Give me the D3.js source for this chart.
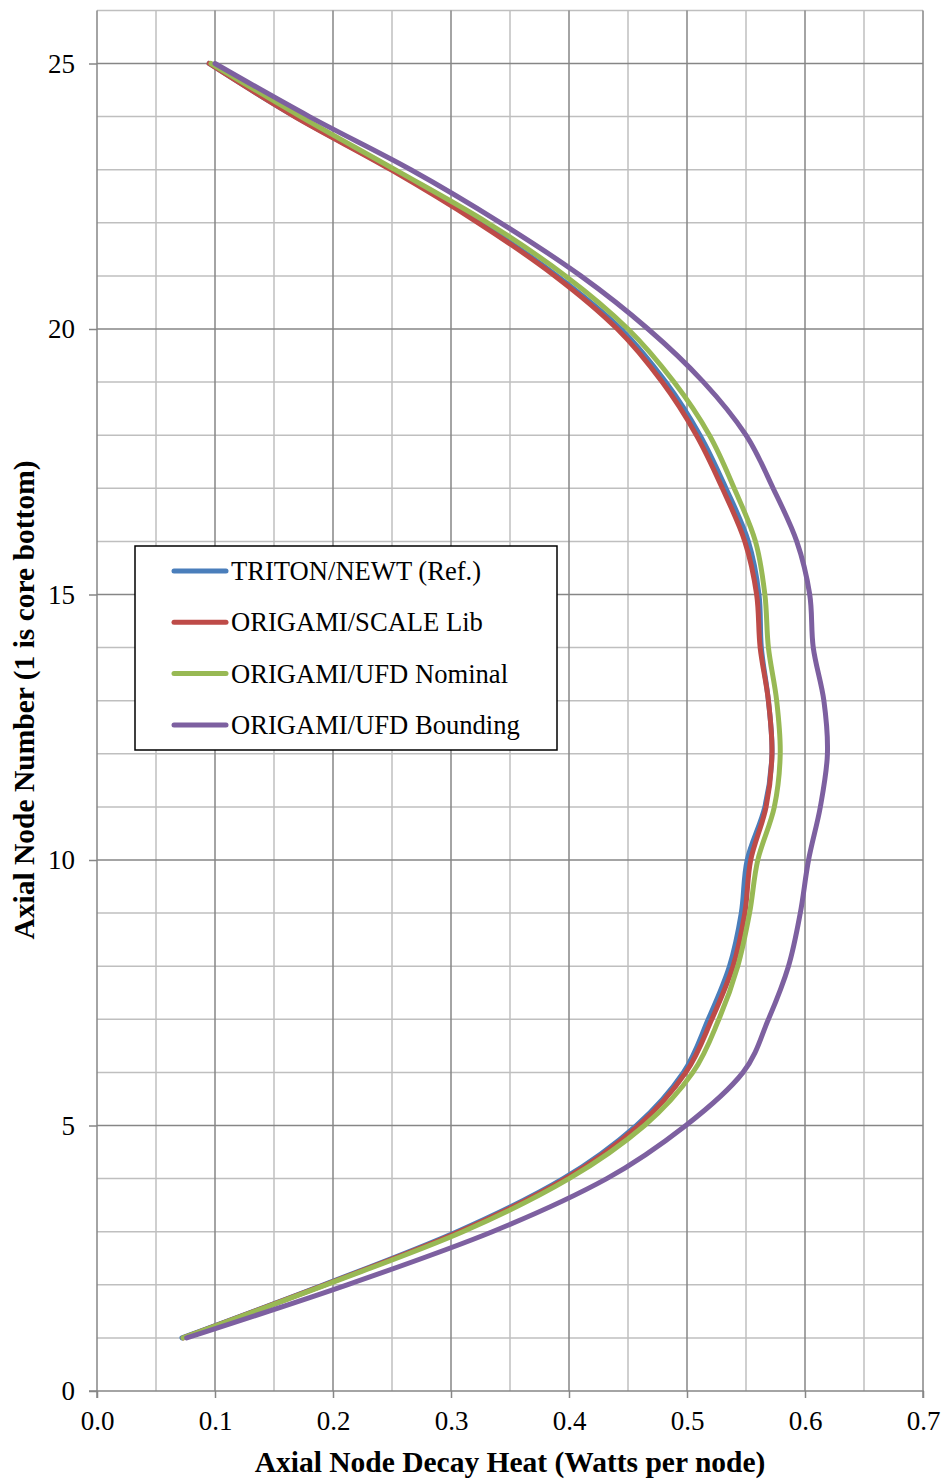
<!DOCTYPE html>
<html><head><meta charset="utf-8">
<script src="https://cdn.jsdelivr.net/npm/d3@7"></script>
<style>body{margin:0;background:#fff}svg{display:block}</style>
</head><body>
<script>
const nodes = [1,2,3,4,5,6,7,8,9,10,11,12,13,14,15,16,17,18,19,20,21,22,23,24,25];
const tritonNewt = [0.072,0.192,0.305,0.395,0.457,0.497,0.518,0.536,0.546,0.551,0.566,0.572,0.569,0.563,0.561,0.552,0.533,0.511,0.482,0.444,0.390,0.325,0.250,0.168,0.095];
const origamiScale = [0.073,0.193,0.307,0.397,0.459,0.499,0.521,0.539,0.549,0.554,0.567,0.572,0.569,0.562,0.559,0.549,0.530,0.508,0.479,0.441,0.388,0.323,0.249,0.1675,0.095];
const ufdNominal = [0.073,0.194,0.310,0.400,0.464,0.505,0.527,0.543,0.553,0.560,0.574,0.579,0.576,0.569,0.566,0.558,0.540,0.519,0.489,0.450,0.397,0.331,0.2526,0.1726,0.0966];
const ufdBounding = [0.076,0.212,0.335,0.432,0.499,0.5475,0.569,0.586,0.596,0.603,0.613,0.619,0.616,0.607,0.604,0.593,0.573,0.550,0.514,0.467,0.410,0.342,0.266,0.180,0.100];
const seriesNames = ["TRITON/NEWT (Ref.)","ORIGAMI/SCALE Lib","ORIGAMI/UFD Nominal","ORIGAMI/UFD Bounding"];
const seriesColors = ["#4A7EBB","#BE4B48","#98B954","#7D60A0"];
const xTicks = [0,0.1,0.2,0.3,0.4,0.5,0.6,0.7];
const yTicks = [0,5,10,15,20,25];
const xTitle = "Axial Node Decay Heat (Watts per node)";
const yTitle = "Axial Node Number (1 is core bottom)";

const W=943,H=1479;
const L=97,R=923,T=10.4,B=1391;
const svg=d3.select("body").append("svg").attr("width",W).attr("height",H);
const x=d3.scaleLinear().domain([0,0.7]).range([L,R]);
const y=d3.scaleLinear().domain([0,26]).range([B,T]);
const font="'Liberation Serif','Times New Roman',serif";

const g=svg.append("g");
// minor grid
const minorX=d3.range(0.05,0.7,0.1);
const minorY=d3.range(0,27).filter(v=>v%5!==0);
g.selectAll(".mx").data(minorX).enter().append("line")
 .attr("x1",d=>x(d)).attr("x2",d=>x(d)).attr("y1",T).attr("y2",B)
 .attr("stroke","#BFBFBF").attr("stroke-width",1.5);
g.selectAll(".my").data(minorY).enter().append("line")
 .attr("y1",d=>y(d)).attr("y2",d=>y(d)).attr("x1",L).attr("x2",R)
 .attr("stroke","#BFBFBF").attr("stroke-width",1.5);
// major grid
g.selectAll(".Mx").data(xTicks.slice(1)).enter().append("line")
 .attr("x1",d=>x(d)).attr("x2",d=>x(d)).attr("y1",T).attr("y2",B)
 .attr("stroke","#868686").attr("stroke-width",1.5);
g.selectAll(".My").data(yTicks.slice(1)).enter().append("line")
 .attr("y1",d=>y(d)).attr("y2",d=>y(d)).attr("x1",L).attr("x2",R)
 .attr("stroke","#868686").attr("stroke-width",1.5);

// axes
const xAxis=d3.axisBottom(x).tickValues(xTicks).tickFormat(d3.format(".1f")).tickSize(7).tickPadding(13);
const yAxis=d3.axisLeft(y).tickValues(yTicks).tickFormat(d3.format("d")).tickSize(8).tickPadding(14);
const gx=svg.append("g").attr("transform",`translate(0,${B})`).call(xAxis);
const gy=svg.append("g").attr("transform",`translate(${L},0)`).call(yAxis);
[gx,gy].forEach(a=>{
  a.select(".domain").attr("stroke","#868686").attr("stroke-width",1.5);
  a.selectAll(".tick line").attr("stroke","#868686").attr("stroke-width",1.5);
  a.selectAll(".tick text").attr("font-family",font).attr("font-size",27).attr("fill","#000");
});
gy.select(".domain").attr("d",`M-8,${B}H0V${T}`);
gx.select(".domain").attr("d",`M${L},7V0H${R}V7`);

// series
const data=[tritonNewt,origamiScale,ufdNominal,ufdBounding];
const line=d3.line().x(d=>x(d[1])).y(d=>y(d[0])).curve(d3.curveCardinal.tension(0));
data.forEach((s,i)=>{
  svg.append("path").datum(nodes.map((n,j)=>[n,s[j]]))
   .attr("d",line).attr("fill","none").attr("stroke",seriesColors[i])
   .attr("stroke-width",5).attr("stroke-linecap","round").attr("stroke-linejoin","round");
});

// legend
const lg=svg.append("g");
lg.append("rect").attr("x",135).attr("y",546).attr("width",422).attr("height",204)
 .attr("fill","#fff").attr("stroke","#000").attr("stroke-width",1.5);
seriesNames.forEach((nm,i)=>{
  const yy=571+i*51.3;
  lg.append("line").attr("x1",174).attr("x2",226).attr("y1",yy).attr("y2",yy)
   .attr("stroke",seriesColors[i]).attr("stroke-width",5).attr("stroke-linecap","round");
  lg.append("text").attr("x",231).attr("y",yy+9).text(nm)
   .attr("font-family",font).attr("font-size",26.6).attr("fill","#000");
});

// titles
svg.append("text").attr("x",510).attr("y",1472).attr("text-anchor","middle")
 .attr("font-family",font).attr("font-size",29.5).attr("font-weight","bold").text(xTitle);
svg.append("text").attr("transform","translate(34,700) rotate(-90)").attr("text-anchor","middle")
 .attr("font-family",font).attr("font-size",29.5).attr("font-weight","bold").text(yTitle);
</script>
</body></html>
